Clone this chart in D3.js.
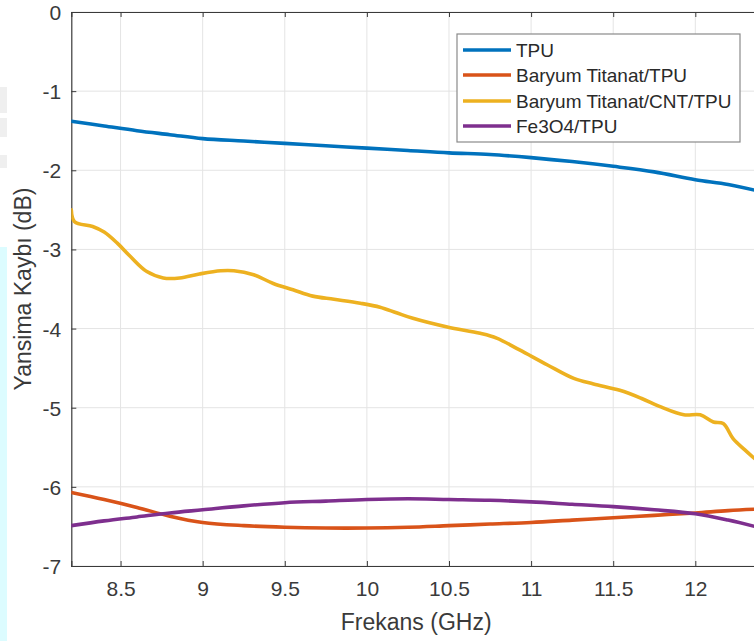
<!DOCTYPE html>
<html>
<head>
<meta charset="utf-8">
<script src="https://cdn.jsdelivr.net/npm/d3@7"></script>
<style>
  html, body { margin: 0; padding: 0; background: #ffffff; }
  svg { display: block; }
  text { font-family: "Liberation Sans", Arial, Helvetica, sans-serif; }
</style>
</head>
<body>
<svg id="chart" width="754" height="641"></svg>
<script>
// Frequency samples (GHz) shared by the smooth series
const freqCommon = [8.2, 8.4, 8.6, 8.8, 9.0, 9.25, 9.5, 9.75, 10.0, 10.25, 10.5, 10.75, 11.0, 11.25, 11.5, 11.75, 12.0, 12.2, 12.4];

// Return loss (dB) per material
const tpu      = [-1.38, -1.44, -1.50, -1.55, -1.60, -1.63, -1.66, -1.69, -1.72, -1.75, -1.78, -1.80, -1.84, -1.89, -1.95, -2.02, -2.12, -2.18, -2.27];
const baryumTPU = [-6.07, -6.16, -6.26, -6.37, -6.45, -6.49, -6.51, -6.52, -6.52, -6.51, -6.49, -6.47, -6.45, -6.42, -6.39, -6.36, -6.33, -6.30, -6.28];
const fe3o4TPU  = [-6.49, -6.43, -6.38, -6.33, -6.29, -6.24, -6.20, -6.18, -6.16, -6.15, -6.16, -6.17, -6.19, -6.22, -6.25, -6.29, -6.34, -6.42, -6.52];

// The CNT composite curve is more irregular, so it has its own sampling
const freqCNT = [8.20, 8.22, 8.33, 8.40, 8.48, 8.56, 8.66, 8.76, 8.86, 8.98, 9.11, 9.19, 9.31, 9.43, 9.55, 9.67, 9.80, 9.96, 10.08, 10.18, 10.28, 10.49, 10.69, 10.79, 10.93, 11.10, 11.26, 11.38, 11.54, 11.67, 11.79, 11.93, 12.03, 12.11, 12.17, 12.23, 12.30, 12.36, 12.40];
const baryumCNT = [-2.50, -2.65, -2.71, -2.78, -2.92, -3.09, -3.28, -3.36, -3.36, -3.31, -3.27, -3.27, -3.32, -3.43, -3.51, -3.59, -3.63, -3.68, -3.73, -3.80, -3.87, -3.98, -4.06, -4.12, -4.27, -4.46, -4.63, -4.70, -4.78, -4.88, -4.99, -5.09, -5.09, -5.18, -5.20, -5.39, -5.53, -5.64, -5.70];

const seriesNames = ["TPU", "Baryum Titanat/TPU", "Baryum Titanat/CNT/TPU", "Fe3O4/TPU"];
const seriesColors = ["#0072BD", "#D95319", "#EDB120", "#7E2F8E"];

const xTicks = [8.5, 9, 9.5, 10, 10.5, 11, 11.5, 12];
const yTicks = [0, -1, -2, -3, -4, -5, -6, -7];

const series = [
  { name: seriesNames[0], color: seriesColors[0], x: freqCommon, y: tpu },
  { name: seriesNames[1], color: seriesColors[1], x: freqCommon, y: baryumTPU },
  { name: seriesNames[2], color: seriesColors[2], x: freqCNT, y: baryumCNT },
  { name: seriesNames[3], color: seriesColors[3], x: freqCommon, y: fe3o4TPU }
];

const svg = d3.select("#chart");
const W = 754, H = 641;
const plotL = 71.3, plotR = 761, plotT = 12, plotB = 566;

const x = d3.scaleLinear().domain([8.2, 12.4]).range([plotL, plotR]);
const y = d3.scaleLinear().domain([-7, 0]).range([plotB, plotT]);

// plain hyphen-minus labels, as MATLAB prints them
const plainLabel = d => String(d);

// scanner-like strip along the left page edge
svg.append("rect").attr("x", 0).attr("y", 247).attr("width", 7).attr("height", H - 247).attr("fill", "#dcfcff");
[[87, 26], [118, 19], [155, 13]].forEach(([yy, hh]) => {
  svg.append("rect").attr("x", 0).attr("y", yy).attr("width", 7).attr("height", hh).attr("fill", "#efefef");
});

// grid
const grid = svg.append("g").attr("stroke", "#e4e4e4").attr("stroke-width", 1);
xTicks.forEach(t => grid.append("line").attr("x1", x(t)).attr("x2", x(t)).attr("y1", plotT).attr("y2", plotB));
yTicks.forEach(t => grid.append("line").attr("x1", plotL).attr("x2", plotR).attr("y1", y(t)).attr("y2", y(t)));

// axes
const axColor = "#3a3a3a";
const xAxis = svg.append("g").attr("transform", `translate(0,${plotB})`)
  .call(d3.axisBottom(x).tickValues(xTicks).tickSize(-5).tickPadding(15).tickFormat(plainLabel));
const xAxisTop = svg.append("g").attr("transform", `translate(0,${plotT})`)
  .call(d3.axisTop(x).tickValues(xTicks).tickSize(-5).tickFormat(""));
const yAxis = svg.append("g").attr("transform", `translate(${plotL},0)`)
  .call(d3.axisLeft(y).tickValues(yTicks).tickSize(-5).tickPadding(10).tickFormat(plainLabel));
const yAxisRight = svg.append("g").attr("transform", `translate(${plotR},0)`)
  .call(d3.axisRight(y).tickValues(yTicks).tickSize(-5).tickFormat(""));

[xAxis, xAxisTop, yAxis, yAxisRight].forEach(g => {
  g.select(".domain").attr("stroke", axColor).attr("stroke-width", 1.2);
  g.selectAll(".tick line").attr("stroke", axColor);
  g.selectAll(".tick text").attr("fill", "#3a3a3a").style("font-size", "21px")
    .style("font-family", "'Liberation Sans', Arial, sans-serif");
});
yAxis.selectAll(".tick text").attr("dy", "0.36em");

// clip for curves
svg.append("clipPath").attr("id", "plotClip").append("rect")
  .attr("x", plotL).attr("y", plotT).attr("width", plotR - plotL).attr("height", plotB - plotT);

const line = d3.line().x(d => x(d[0])).y(d => y(d[1])).curve(d3.curveCatmullRom.alpha(0.5));
const plot = svg.append("g").attr("clip-path", "url(#plotClip)");
series.forEach(s => {
  plot.append("path")
    .datum(s.x.map((v, i) => [v, s.y[i]]))
    .attr("fill", "none")
    .attr("stroke", s.color)
    .attr("stroke-width", 3.6)
    .attr("stroke-linejoin", "round")
    .attr("stroke-linecap", "round")
    .attr("d", line);
});

// axis labels
svg.append("text").attr("x", (plotL + plotR) / 2).attr("y", 630).attr("text-anchor", "middle")
  .attr("fill", "#3a3a3a").style("font-size", "23px").text("Frekans (GHz)");
svg.append("text").attr("transform", `translate(31,${(plotT + plotB) / 2}) rotate(-90)`)
  .attr("text-anchor", "middle").attr("fill", "#3a3a3a").style("font-size", "23px").text("Yansima Kaybı (dB)");

// legend
const lg = svg.append("g");
lg.append("rect").attr("x", 457).attr("y", 34).attr("width", 283).attr("height", 108)
  .attr("fill", "#ffffff").attr("stroke", "#8a8a8a").attr("stroke-width", 1.2);
const rowY = [50, 75, 101, 126];
series.forEach((s, i) => {
  lg.append("line").attr("x1", 463).attr("x2", 511).attr("y1", rowY[i]).attr("y2", rowY[i])
    .attr("stroke", s.color).attr("stroke-width", 3.6);
  lg.append("text").attr("x", 516).attr("y", rowY[i]).attr("dy", "0.36em")
    .attr("fill", "#2a2a2a").style("font-size", "19px").text(s.name);
});
</script>
</body>
</html>
